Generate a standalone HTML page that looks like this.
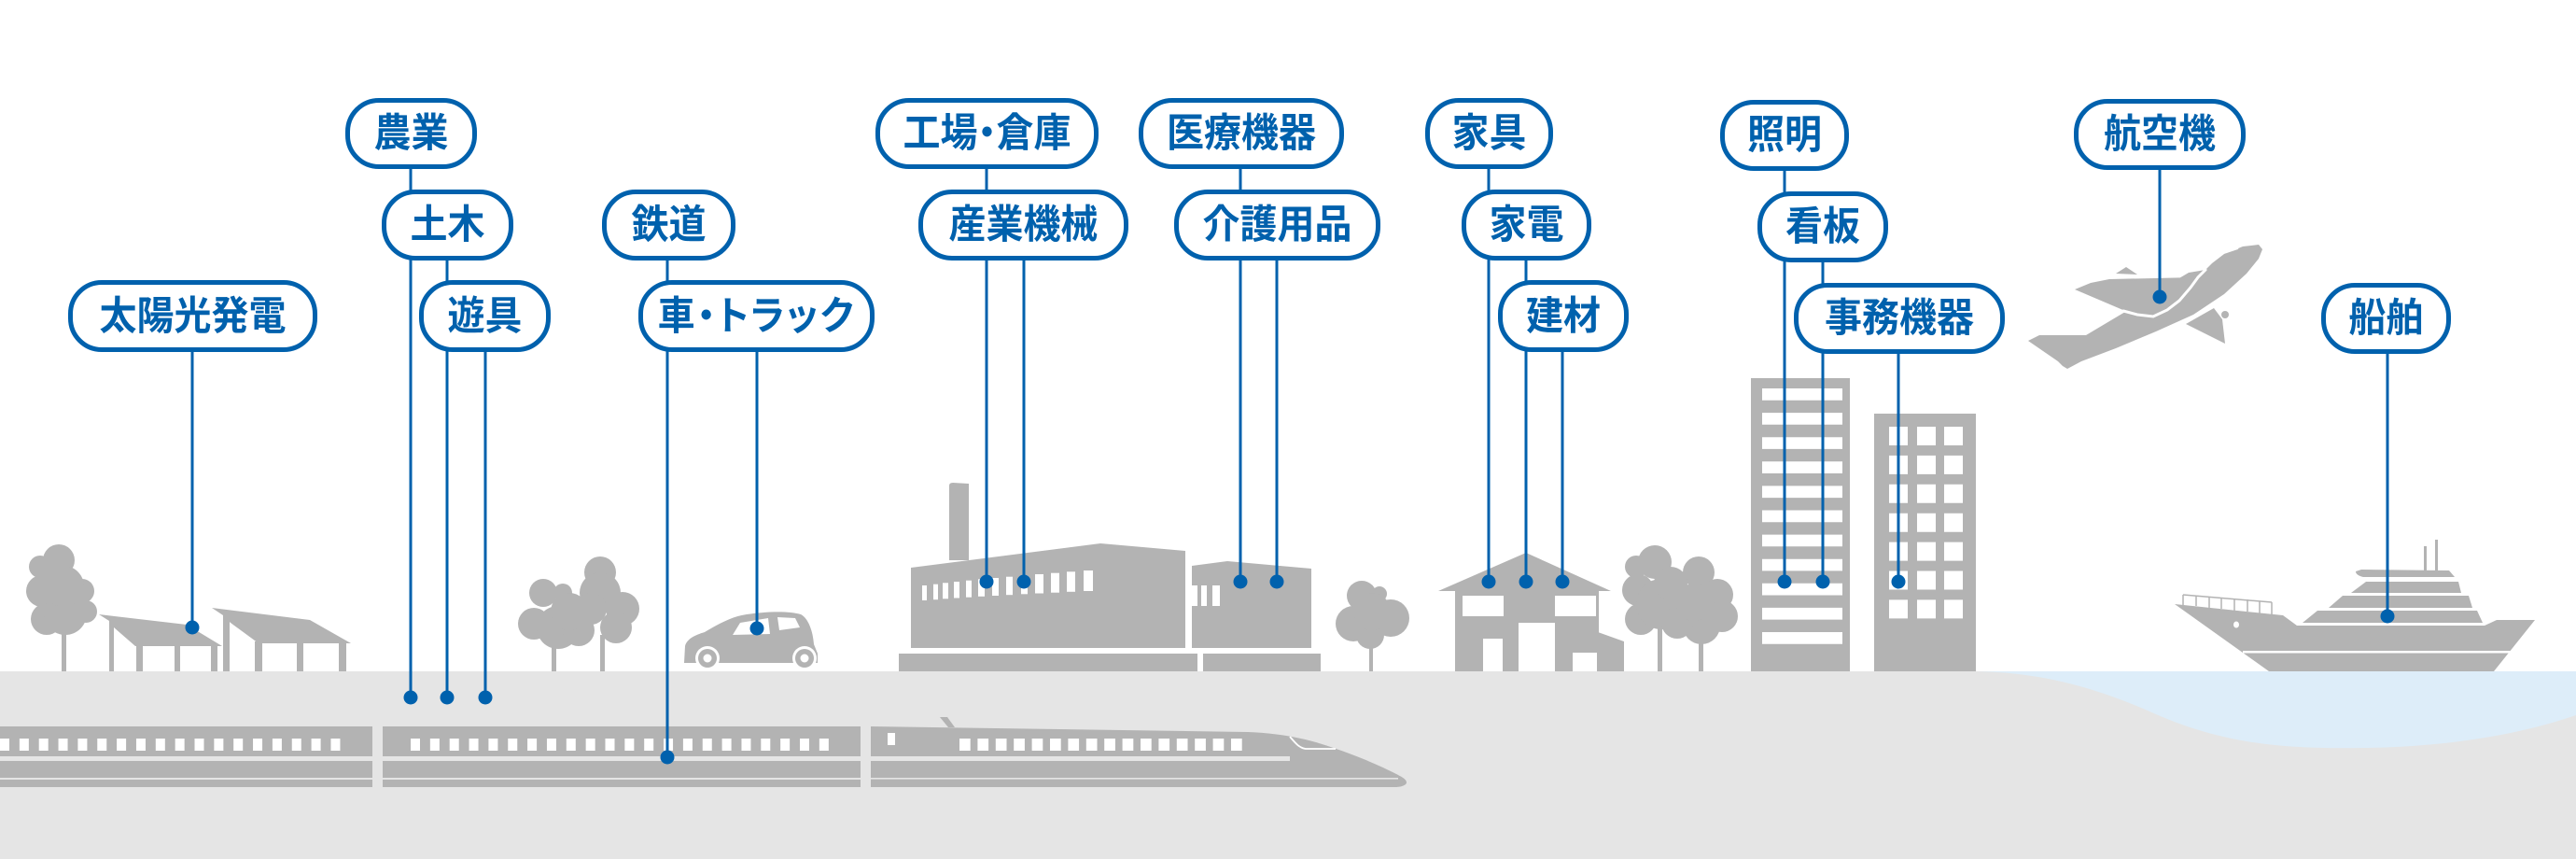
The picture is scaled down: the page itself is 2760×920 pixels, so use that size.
<!DOCTYPE html>
<html><head><meta charset="utf-8">
<style>
html,body{margin:0;padding:0;background:#fff;}
#wrap{position:relative;width:2760px;height:920px;overflow:hidden;background:#fff;}
svg{position:absolute;left:0;top:0;}
.b{position:absolute;height:76px;box-sizing:border-box;border:5px solid #0061ad;border-radius:36px;background:#fff;display:flex;align-items:center;justify-content:center;font-family:"Liberation Sans","Noto Sans CJK JP",sans-serif;font-weight:bold;font-size:40px;line-height:1;color:#0061ad;white-space:nowrap;}
.b span{display:inline-block;transform:scaleY(1.06);}
.p{font-feature-settings:"palt";}
</style></head><body><div id="wrap">
<svg width="2760" height="920" viewBox="0 0 2760 920" xmlns="http://www.w3.org/2000/svg">
<rect x="0" y="719" width="2760" height="201" fill="#e5e5e5"/>
<path d="M2116,719 C2190,720 2250,738 2310,765 C2390,800 2460,802 2533,801 C2610,800 2690,790 2760,766 L2760,719 Z" fill="#ddedf9"/>
<g fill="#b3b3b3">
<rect x="66" y="670" width="5" height="49"/>
<circle cx="63" cy="600" r="17"/><circle cx="43" cy="607" r="12"/><circle cx="45" cy="633" r="17"/><circle cx="88" cy="633" r="13"/><circle cx="92" cy="655" r="12"/><circle cx="50" cy="663" r="17"/><circle cx="70" cy="657" r="23"/><circle cx="68" cy="628" r="22"/>
<polygon points="106,658 200,669 238,692 145,692 122,672 117,665"/>
<rect x="117" y="663" width="5" height="56"/><rect x="146" y="690" width="7" height="29"/><rect x="187" y="690" width="6" height="29"/><rect x="226" y="690" width="7" height="29"/>
<polygon points="227,651 332,664 376,689 277,689 247,667 239,659"/>
<rect x="239" y="656" width="7" height="63"/><rect x="273" y="687" width="8" height="32"/><rect x="318" y="687" width="7" height="32"/><rect x="363" y="687" width="8" height="32"/>
<rect x="591" y="680" width="5" height="39"/><rect x="643" y="680" width="5" height="39"/>
<circle cx="582" cy="635" r="15"/><circle cx="603" cy="635" r="10"/><circle cx="572" cy="668" r="17"/><circle cx="598" cy="672" r="23"/><circle cx="643" cy="613" r="17"/><circle cx="643" cy="635" r="22"/><circle cx="667" cy="652" r="18"/><circle cx="660" cy="672" r="17"/><circle cx="620" cy="675" r="17"/><circle cx="633" cy="652" r="17"/><circle cx="610" cy="655" r="20"/>
<path d="M733,710 L734,692 C736,684 745,680 755,677 C770,668 785,660 800,658 C820,655 845,654 858,658 C866,662 871,676 872,690 L876,700 L876,710 Z"/>
</g>
<g fill="#fff">
<polygon points="785,680 793,667 823,662 825,679"/>
<polygon points="833,661 852,662 857,672 835,675"/>
<circle cx="758" cy="705" r="13"/><circle cx="862" cy="705" r="13"/>
</g>
<g fill="#b3b3b3"><circle cx="758" cy="705" r="10"/><circle cx="862" cy="705" r="10"/></g>
<g fill="#fff"><circle cx="758" cy="705" r="4.5"/><circle cx="862" cy="705" r="4.5"/></g>

<g fill="#b3b3b3">
<rect x="0" y="778" width="399" height="65"/>
<rect x="410" y="778" width="512" height="65"/>
<path d="M933,778 L1337,784 C1362,785 1385,788 1410,795 C1440,804 1470,816 1490,826 C1500,831 1507,834 1507,838 C1507,841 1501,843 1495,843 L933,843 Z"/>
<polygon points="1007,768 1015,768 1023,779 1016,779"/>
</g>
<g fill="#e5e5e5">
<rect x="0" y="810" width="922" height="5"/>
<rect x="0" y="833" width="922" height="2"/>
<rect x="933" y="810" width="449" height="5"/>
<rect x="933" y="833" width="565" height="1.6"/>
</g>
<g stroke="#fff" fill="none">
<line x1="0" y1="797.5" x2="365" y2="797.5" stroke-width="13" stroke-dasharray="10 10.85"/>
<line x1="440" y1="797.5" x2="888" y2="797.5" stroke-width="13" stroke-dasharray="10 10.85"/>
<line x1="1028" y1="797.5" x2="1331" y2="797.5" stroke-width="13" stroke-dasharray="11.7 7.7"/>
<path d="M1382,789 C1388,796 1392,801 1399,802 L1431,802" stroke-width="1.8"/>
</g>
<rect x="951" y="785" width="8" height="13" fill="#fff"/>

<g fill="#b3b3b3">
<path d="M1017,600 L1017,520 Q1017,517 1021,517 L1038,518 L1038,600 Z"/>
<polygon points="976,608 1179,582 1270,590 1270,694 976,694"/>
<polygon points="1277,606 1315,601 1405,609 1405,694 1277,694"/>
<rect x="963" y="700" width="320" height="19"/>
<rect x="1289" y="700" width="126" height="19"/>
</g>
<g fill="#fff">
<rect x="988" y="627" width="5" height="16"/>
<rect x="1000" y="625.7" width="5" height="16.5"/>
<rect x="1010" y="624.3" width="6" height="17"/>
<rect x="1022" y="623" width="6" height="17.5"/>
<rect x="1035" y="621.7" width="6" height="18"/>
<rect x="1048" y="620.3" width="7" height="18.5"/>
<rect x="1063" y="619" width="7" height="19"/>
<rect x="1078" y="617.7" width="7" height="19.5"/>
<rect x="1094" y="616.3" width="7" height="20"/>
<rect x="1109" y="615" width="9" height="20.5"/>
<rect x="1126" y="613.7" width="9" height="21"/>
<rect x="1143" y="612.3" width="9" height="21.5"/>
<rect x="1161" y="611" width="10" height="22"/>
<rect x="1277" y="627" width="6" height="22"/>
<rect x="1287" y="627" width="6" height="22"/>
<rect x="1299" y="627" width="8" height="22"/>
</g>
<g fill="#b3b3b3">
<rect x="1467" y="680" width="4" height="39"/>
<circle cx="1459" cy="638" r="16"/><circle cx="1478" cy="636" r="8"/><circle cx="1490" cy="662" r="20"/><circle cx="1450" cy="668" r="19"/><circle cx="1468" cy="680" r="15"/><circle cx="1470" cy="655" r="20"/>
<polygon points="1541,633 1635,592 1726,633"/>
<rect x="1559" y="632" width="154" height="87"/>
<polygon points="1712,677 1740,687 1740,719 1712,719"/>
</g>
<g fill="#fff">
<rect x="1567" y="638" width="44" height="22"/>
<rect x="1666" y="638" width="44" height="22"/>
<rect x="1589" y="684" width="21" height="35"/>
<rect x="1627" y="667" width="39" height="52"/>
<rect x="1685" y="699" width="26" height="20"/>
</g>
<g fill="#b3b3b3">
<rect x="1776" y="670" width="5" height="49"/><rect x="1820" y="670" width="5" height="49"/>
<circle cx="1773" cy="602" r="18"/><circle cx="1753" cy="607" r="12"/><circle cx="1755" cy="632" r="17"/><circle cx="1758" cy="663" r="17"/><circle cx="1780" cy="647" r="27"/><circle cx="1820" cy="613" r="17"/><circle cx="1840" cy="637" r="17"/><circle cx="1845" cy="660" r="17"/><circle cx="1823" cy="670" r="20"/><circle cx="1797" cy="667" r="17"/><circle cx="1790" cy="625" r="18"/><circle cx="1815" cy="645" r="20"/>
<rect x="1876" y="405" width="106" height="314"/>
<rect x="2008" y="443" width="109" height="276"/>
</g>
<g stroke="#fff" fill="none">
<line x1="1931" y1="416" x2="1931" y2="691" stroke-width="86" stroke-dasharray="12.7 13.4"/>
<line x1="2034" y1="457" x2="2034" y2="663" stroke-width="20" stroke-dasharray="20 10.9"/>
<line x1="2064" y1="457" x2="2064" y2="663" stroke-width="20" stroke-dasharray="20 10.9"/>
<line x1="2093" y1="457" x2="2093" y2="663" stroke-width="20" stroke-dasharray="20 10.9"/>
</g>

<g fill="#b3b3b3">
<polygon points="2267,293 2278,286 2290,294"/>
<polygon points="2342,347 2372,330 2381,342 2384,368"/>
<circle cx="2384" cy="337" r="4"/>
<polygon points="2173,365 2185,359 2235,359 2277,334 2323,305 2345,292 2363,289 2370,282 2383,272 2403,264 2420,262 2424,267 2420,277 2407,293 2383,315 2350,337 2310,355 2267,373 2230,387 2215,395 2210,392 2205,387"/>
<polygon points="2223,310 2240,303 2260,299 2353,297 2347,307 2335,322 2322,332 2307,338 2293,337 2277,333"/>
</g>
<g stroke="#fff" fill="none" stroke-linecap="round">
<polyline points="2363,289 2355,297 2347,308 2335,322 2322,332 2307,339 2290,337 2275,333" stroke-width="3"/>
<line x1="2385" y1="270" x2="2397" y2="266" stroke-width="2.5"/>
</g>

<g fill="#b3b3b3">
<polygon points="2330,647 2446,659 2461,670 2662,670 2675,664 2716,664 2672,719 2431,719"/>
<polygon points="2483,654 2654,654 2660,667 2467,667"/>
<polygon points="2510,638 2645,638 2649,651 2495,651"/>
<polygon points="2535,623 2634,623 2637,635 2519,635"/>
<path d="M2530,610 L2624,611 L2630,618 L2532,618 Q2524,616 2524,612 Z"/>
<rect x="2597" y="585" width="3" height="27"/>
<rect x="2609" y="578" width="3" height="34"/>
</g>
<g stroke="#b3b3b3" stroke-width="1.5" fill="none">
<line x1="2339" y1="637" x2="2434" y2="645"/>
<line x1="2339" y1="637" x2="2339" y2="648"/><line x1="2353" y1="638" x2="2353" y2="649"/><line x1="2367" y1="639" x2="2367" y2="651"/><line x1="2380" y1="640" x2="2380" y2="652"/><line x1="2394" y1="641" x2="2394" y2="654"/><line x1="2408" y1="642" x2="2408" y2="655"/><line x1="2421" y1="644" x2="2421" y2="657"/><line x1="2434" y1="645" x2="2434" y2="658"/>
</g>
<rect x="2403" y="697" width="288" height="2.5" fill="#fff"/>
<ellipse cx="2396" cy="669" rx="3" ry="3.5" fill="#fff"/>

<g stroke="#0061ad" stroke-width="3" fill="none">
<line x1="206" y1="377" x2="206" y2="672"/>
<line x1="440" y1="180" x2="440" y2="747"/>
<line x1="479" y1="278" x2="479" y2="747"/>
<line x1="520" y1="377" x2="520" y2="747"/>
<line x1="715" y1="278" x2="715" y2="811"/>
<line x1="811" y1="377" x2="811" y2="673"/>
<line x1="1057" y1="180" x2="1057" y2="623"/>
<line x1="1097" y1="278" x2="1097" y2="623"/>
<line x1="1329" y1="180" x2="1329" y2="623"/>
<line x1="1368" y1="278" x2="1368" y2="623"/>
<line x1="1595" y1="180" x2="1595" y2="623"/>
<line x1="1635" y1="278" x2="1635" y2="623"/>
<line x1="1674" y1="377" x2="1674" y2="623"/>
<line x1="1912" y1="182" x2="1912" y2="623"/>
<line x1="1953" y1="280" x2="1953" y2="623"/>
<line x1="2034" y1="378" x2="2034" y2="623"/>
<line x1="2314" y1="182" x2="2314" y2="318"/>
<line x1="2558" y1="378" x2="2558" y2="660"/>
</g>
<g fill="#0061ad">
<circle cx="206" cy="672" r="7.5"/>
<circle cx="440" cy="747" r="7.5"/><circle cx="479" cy="747" r="7.5"/><circle cx="520" cy="747" r="7.5"/>
<circle cx="715" cy="811" r="7.5"/><circle cx="811" cy="673" r="7.5"/>
<circle cx="1057" cy="623" r="7.5"/><circle cx="1097" cy="623" r="7.5"/>
<circle cx="1329" cy="623" r="7.5"/><circle cx="1368" cy="623" r="7.5"/>
<circle cx="1595" cy="623" r="7.5"/><circle cx="1635" cy="623" r="7.5"/><circle cx="1674" cy="623" r="7.5"/>
<circle cx="1912" cy="623" r="7.5"/><circle cx="1953" cy="623" r="7.5"/><circle cx="2034" cy="623" r="7.5"/>
<circle cx="2314" cy="318" r="7.5"/><circle cx="2558" cy="660" r="7.5"/>
</g>
</svg>

<div class="b" style="left:73px;top:300px;width:267px;height:77px"><span>太陽光発電</span></div>
<div class="b" style="left:370px;top:105px;width:141px"><span>農業</span></div>
<div class="b" style="left:409px;top:203px;width:141px"><span>土木</span></div>
<div class="b" style="left:449px;top:300px;width:141px;height:77px"><span>遊具</span></div>
<div class="b" style="left:645px;top:203px;width:143px"><span>鉄道</span></div>
<div class="b p" style="left:684px;top:300px;width:253px;height:77px;letter-spacing:2px"><span>車・トラック</span></div>
<div class="b p" style="left:938px;top:105px;width:239px"><span>工場・倉庫</span></div>
<div class="b" style="left:984px;top:203px;width:225px"><span>産業機械</span></div>
<div class="b" style="left:1220px;top:105px;width:220px"><span>医療機器</span></div>
<div class="b" style="left:1258px;top:203px;width:221px"><span>介護用品</span></div>
<div class="b" style="left:1527px;top:105px;width:137px"><span>家具</span></div>
<div class="b" style="left:1566px;top:203px;width:139px"><span>家電</span></div>
<div class="b" style="left:1605px;top:300px;width:140px;height:77px"><span>建材</span></div>
<div class="b" style="left:1843px;top:107px;width:138px"><span>照明</span></div>
<div class="b" style="left:1883px;top:205px;width:140px"><span>看板</span></div>
<div class="b" style="left:1922px;top:303px;width:226px"><span>事務機器</span></div>
<div class="b" style="left:2222px;top:106px;width:184px"><span>航空機</span></div>
<div class="b" style="left:2487px;top:303px;width:139px"><span>船舶</span></div>
</div></body></html>
